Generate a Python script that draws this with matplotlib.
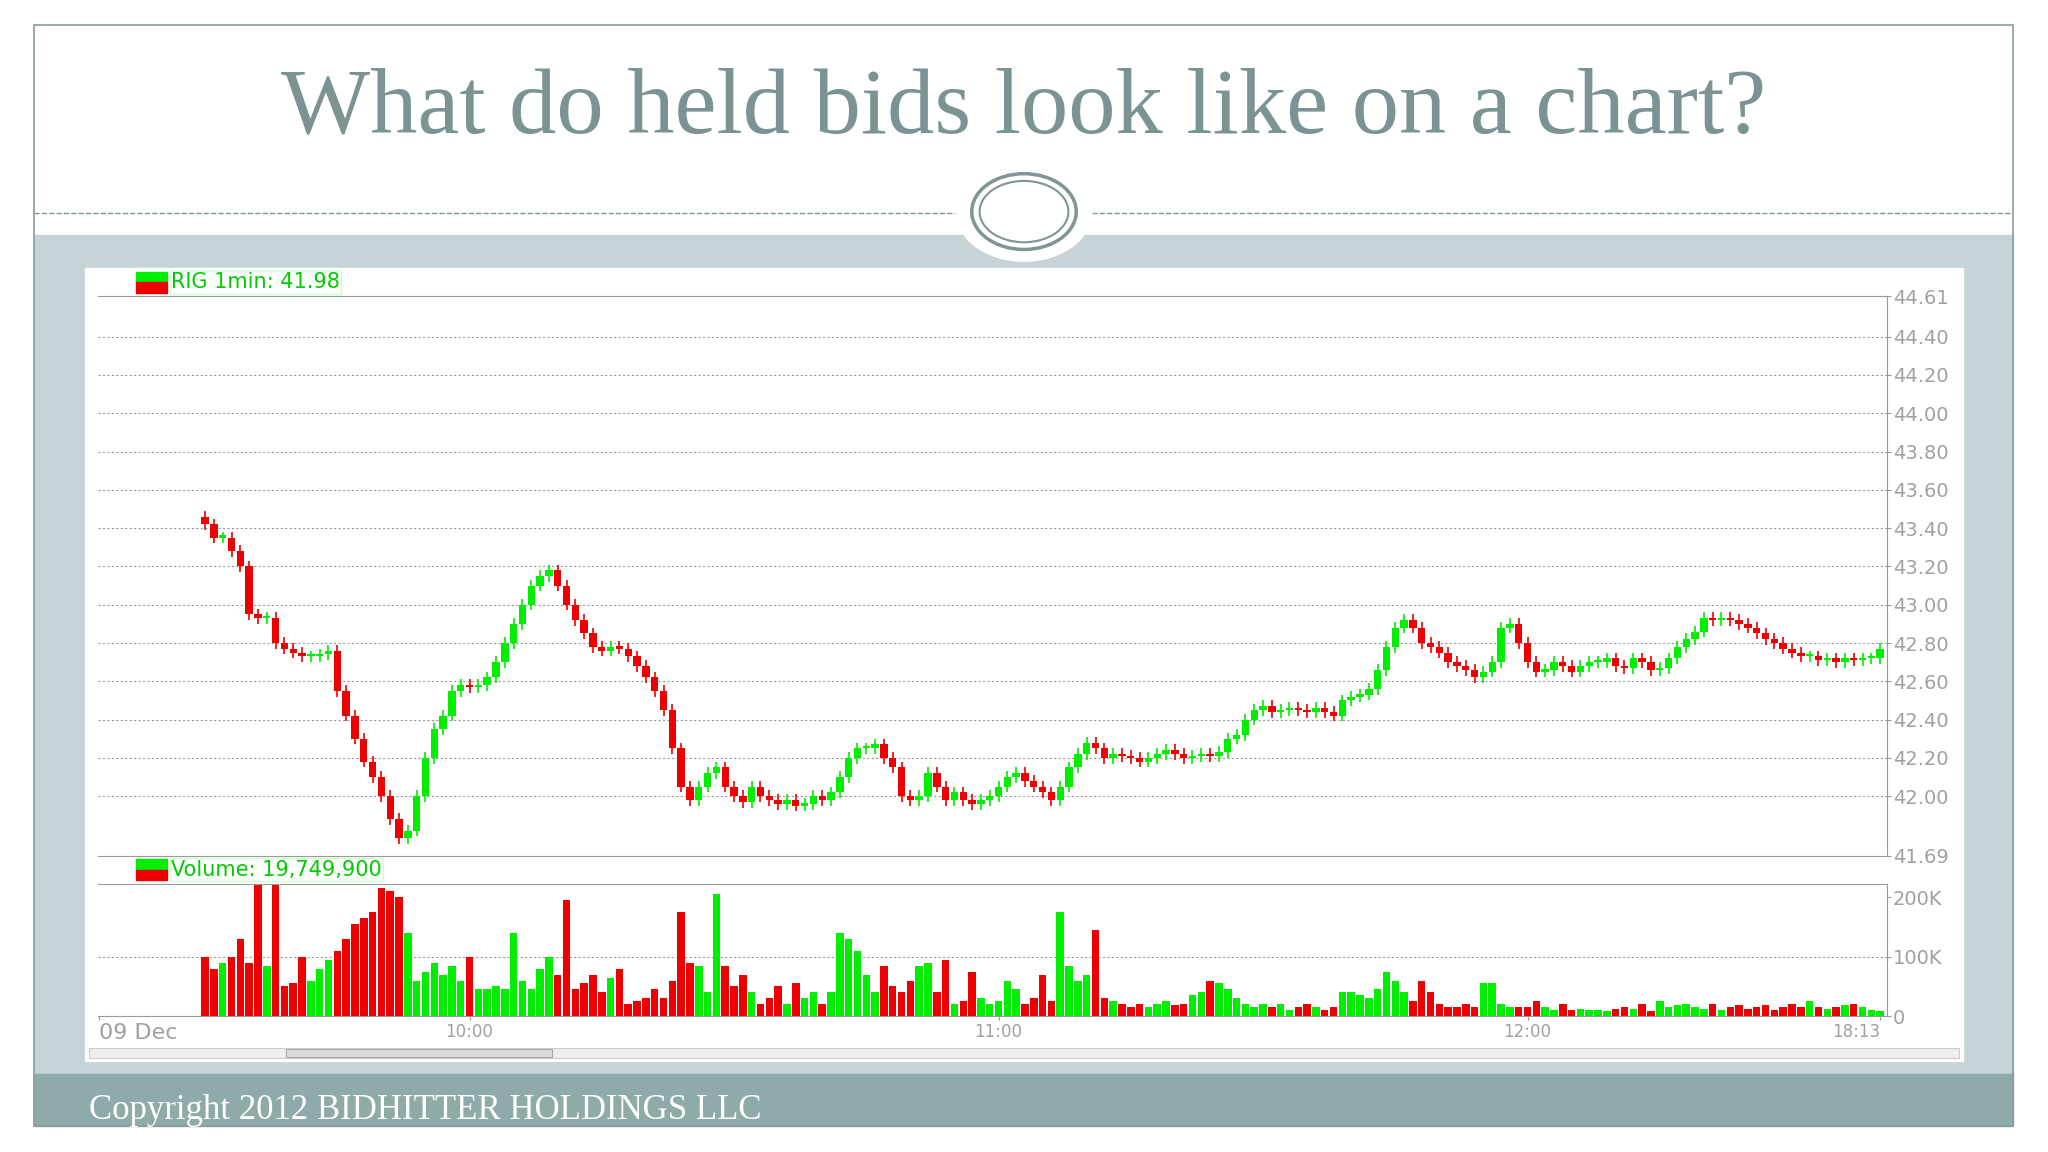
import matplotlib
matplotlib.use("Agg")
import matplotlib.pyplot as plt
from matplotlib.patches import Rectangle, Ellipse
import numpy as np

# minute closes from 09:30 (RIG 1min)
closes = [43.42, 43.35, 43.35, 43.28, 43.20, 42.95, 42.93, 42.93, 42.80, 42.77,
          42.75, 42.73, 42.73, 42.74, 42.76, 42.55, 42.42, 42.30, 42.18, 42.10,
          42.00, 41.88, 41.78, 41.82, 42.00, 42.20, 42.35, 42.42, 42.55, 42.58,
          42.57, 42.58, 42.62, 42.70, 42.80, 42.90, 43.00, 43.10, 43.15, 43.18,
          43.10, 43.00, 42.92, 42.85, 42.78, 42.76, 42.78, 42.77, 42.73, 42.68,
          42.62, 42.55, 42.45, 42.25, 42.05, 41.98, 42.05, 42.12, 42.15, 42.05,
          42.00, 41.97, 42.05, 42.00, 41.98, 41.96, 41.98, 41.95, 41.96, 42.00,
          41.98, 42.02, 42.10, 42.20, 42.25, 42.25, 42.27, 42.20, 42.15, 42.00,
          41.98, 42.00, 42.12, 42.05, 41.98, 42.02, 41.98, 41.96, 41.98, 42.00,
          42.05, 42.10, 42.12, 42.08, 42.05, 42.02, 41.98, 42.05, 42.15, 42.22,
          42.28, 42.25, 42.20, 42.22, 42.21, 42.20, 42.18, 42.20, 42.22, 42.24,
          42.22, 42.20, 42.21, 42.22, 42.21, 42.23, 42.30, 42.32, 42.40, 42.45,
          42.47, 42.44, 42.45, 42.46, 42.45, 42.44, 42.46, 42.44, 42.42, 42.50,
          42.52, 42.53, 42.56, 42.66, 42.78, 42.88, 42.92, 42.88, 42.80, 42.78,
          42.75, 42.70, 42.68, 42.66, 42.62, 42.65, 42.70, 42.88, 42.90, 42.80,
          42.70, 42.65, 42.66, 42.70, 42.68, 42.65, 42.68, 42.70, 42.70, 42.72,
          42.68, 42.67, 42.72, 42.70, 42.66, 42.67, 42.72, 42.78, 42.82, 42.86,
          42.93, 42.92, 42.93, 42.92, 42.90, 42.88, 42.85, 42.82, 42.80, 42.77,
          42.75, 42.73, 42.73, 42.71, 42.72, 42.70, 42.72, 42.71, 42.72, 42.72,
          42.77]
first_open = 43.46
wick = 0.03

# volume per minute, thousands
volumes = [100, 80, 90, 100, 130, 90, 220, 85, 220, 50, 55, 100, 60, 80, 95, 110, 130, 155, 165, 175,
           215, 210, 200, 140, 60, 75, 90, 70, 85, 60, 100, 45, 45, 50, 45, 140, 60, 45, 80, 100,
           70, 195, 45, 55, 70, 40, 65, 80, 20, 25, 30, 45, 30, 60, 175, 90, 85, 40, 205, 85,
           50, 70, 40, 20, 30, 50, 20, 55, 30, 40, 20, 40, 140, 130, 110, 70, 40, 85, 50, 40,
           60, 85, 90, 40, 95, 20, 25, 75, 30, 20, 25, 60, 45, 20, 30, 70, 25, 175, 85, 60,
           70, 145, 30, 25, 20, 15, 20, 15, 20, 25, 18, 20, 35, 40, 60, 55, 45, 30, 20, 15,
           20, 15, 20, 10, 15, 20, 15, 10, 15, 40, 40, 35, 30, 45, 75, 60, 40, 25, 60, 40,
           20, 15, 15, 20, 15, 55, 55, 20, 15, 15, 15, 25, 15, 10, 20, 10, 12, 10, 10, 8,
           12, 15, 12, 20, 8, 25, 15, 18, 20, 15, 12, 20, 10, 15, 18, 12, 15, 18, 10, 15,
           20, 15, 25, 15, 12, 15, 18, 20, 15, 10, 8]

price_ticks = [44.61, 44.40, 44.20, 44.00, 43.80, 43.60, 43.40, 43.20, 43.00, 42.80, 42.60, 42.40, 42.20, 42.00, 41.69]
time_labels = ["09 Dec", "10:00", "11:00", "12:00", "18:13"]
time_pos = [-12, 30, 90, 150, 190]

W, H = 1568.0, 882.0
def box(x0, y0, x1, y1):
    return [x0 / W, 1 - y1 / H, (x1 - x0) / W, (y1 - y0) / H]

GREEN = "#00ee00"
RED = "#ee0000"
GRID = "#9a9a9a"
TXT = "#a0a0a0"

fig = plt.figure(figsize=(20.48, 11.52), dpi=100)
fig.patch.set_facecolor("white")
bg = fig.add_axes([0, 0, 1, 1])
bg.set_xlim(0, W)
bg.set_ylim(H, 0)
bg.axis("off")
bg.add_patch(Rectangle((26, 180), 1515, 642, color="#c6d4d7", zorder=0))
bg.add_patch(Rectangle((26, 822), 1515, 40, color="#8eaaa9", zorder=0))
bg.add_patch(Rectangle((26, 19), 1515, 843, fill=False, ec="#8a9c9c", lw=1.2, zorder=3))
bg.add_patch(Rectangle((65, 205), 1438, 607, color="white", zorder=1))
bg.plot([26, 732], [163, 163], ls="--", color="#7f9594", lw=1)
bg.plot([836, 1541], [163, 163], ls="--", color="#7f9594", lw=1)
bg.add_patch(Ellipse((784, 162), 104, 76, color="white", zorder=2))
bg.add_patch(Ellipse((784, 162), 80, 58, fill=False, ec="#7f9594", lw=2.5, zorder=3))
bg.add_patch(Ellipse((784, 162), 68, 47, fill=False, ec="#7f9594", lw=1.5, zorder=3))
bg.text(784, 84, "What do held bids look like on a chart?", ha="center", va="center",
        fontsize=68, color="#7b9392", family="Liberation Serif")
bg.text(68, 850, "Copyright 2012 BIDHITTER HOLDINGS LLC", ha="left", va="center",
        fontsize=25, color="white", family="Liberation Serif")
# scrollbar
bg.add_patch(Rectangle((68, 802), 1432, 8, fc="#eeeeee", ec="#cccccc", lw=0.8, zorder=2))
bg.add_patch(Rectangle((219, 803), 204, 6, fc="#dddddd", ec="#aaaaaa", lw=0.8, zorder=3))

x0px, x1px, m0px, ppm = 75, 1445, 157, 6.75
xlim = ((x0px - m0px) / ppm, (x1px - m0px) / ppm)

n = len(closes)
opens = [first_open] + closes[:-1]
xs = np.arange(n)
colors = [GREEN if c >= o else RED for o, c in zip(opens, closes)]

ax = fig.add_axes(box(x0px, 227, x1px, 655))
ax.set_xlim(*xlim)
ax.set_ylim(41.69, 44.61)
for o, c, x, col in zip(opens, closes, xs, colors):
    lo, hi = min(o, c), max(o, c)
    ax.vlines(x, lo - wick, hi + wick, color=col, lw=1.2)
    ax.add_patch(Rectangle((x - 0.42, lo), 0.84, max(hi - lo, 0.012), color=col, lw=0))
ax.yaxis.tick_right()
ax.set_yticks(price_ticks)
ax.set_yticklabels(["%.2f" % p for p in price_ticks], color=TXT, fontsize=14)
ax.tick_params(axis="y", length=3, color=GRID, pad=1)
for p in price_ticks[1:-1]:
    ax.axhline(p, color=GRID, ls=(0, (2, 2)), lw=0.8, zorder=0)
ax.set_xticks([])
ax.spines["left"].set_visible(False)
for s in ["right", "bottom", "top"]:
    ax.spines[s].set_color(GRID)

vax = fig.add_axes(box(x0px, 677, x1px, 778))
vax.set_xlim(*xlim)
vax.set_ylim(0, 222)
vax.bar(xs, volumes, width=0.85, color=colors)
vax.yaxis.tick_right()
vax.set_yticks([0, 100, 200])
vax.set_yticklabels(["0", "100K", "200K"], color=TXT, fontsize=14)
vax.tick_params(axis="y", length=3, color=GRID, pad=1)
vax.axhline(100, color=GRID, ls=(0, (2, 2)), lw=0.8, zorder=0)
vax.set_xticks(time_pos)
vax.set_xticklabels(time_labels, color=TXT, fontsize=12)
vax.get_xticklabels()[0].set_fontsize(16)
vax.get_xticklabels()[0].set_ha("left")
vax.get_xticklabels()[-1].set_ha("right")
vax.tick_params(axis="x", length=3, color=GRID, pad=2)
vax.spines["left"].set_visible(False)
for s in ["right", "bottom", "top"]:
    vax.spines[s].set_color(GRID)

# legends
for y, label in [(216, "RIG 1min: 41.98"), (666, "Volume: 19,749,900")]:
    bg.add_patch(Rectangle((104, y - 8), 24, 8, color=GREEN, zorder=4))
    bg.add_patch(Rectangle((104, y), 24, 8, color=RED, zorder=4))
    bg.text(131, y, label, color="#00cc00", fontsize=15, va="center", ha="left", zorder=4,
            bbox=dict(fc="white", ec="#ccffcc", pad=1))

fig.savefig("out.png", dpi=100)
